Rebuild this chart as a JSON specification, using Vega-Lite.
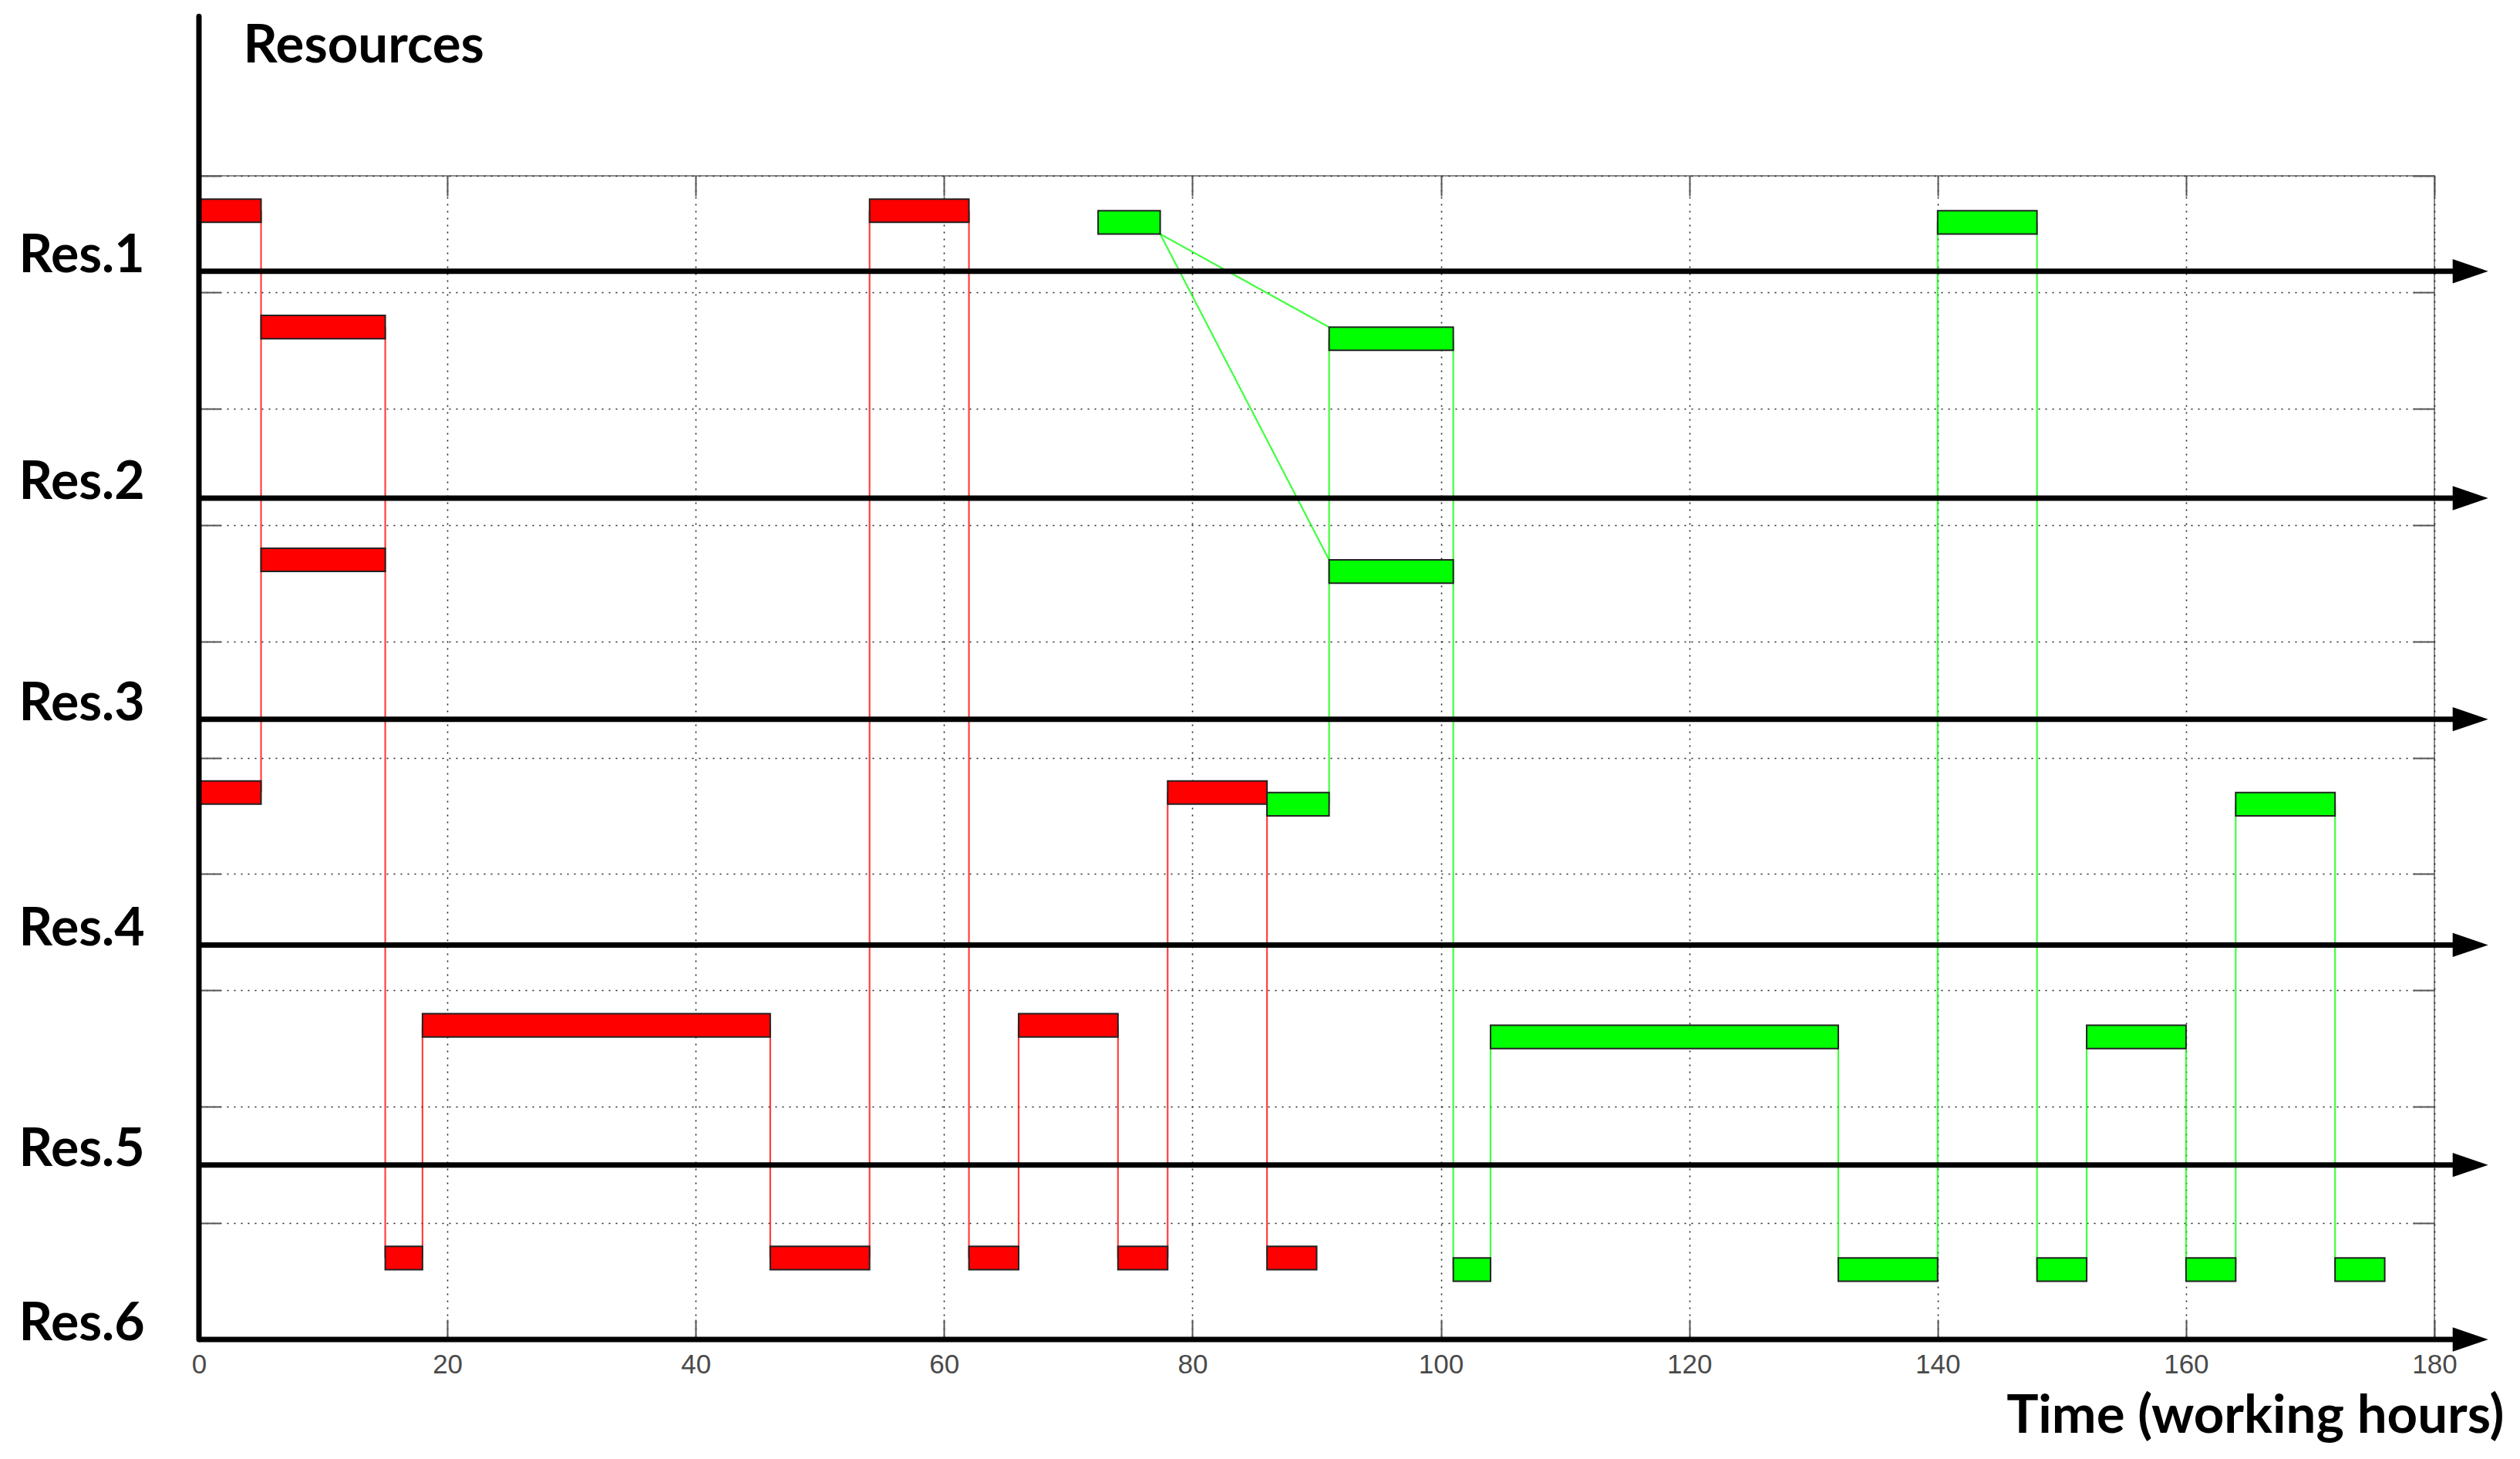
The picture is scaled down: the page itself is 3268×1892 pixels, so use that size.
{
  "$schema": "https://vega.github.io/schema/vega-lite/v6.json",
  "width": 2899,
  "height": 1509,
  "autosize": {"type": "none"},
  "padding": {"left": 258, "top": 228, "right": 111, "bottom": 155},
  "background": "white",
  "config": {
    "view": {"stroke": "#8c8c8c", "strokeWidth": 2},
    "font": "Lato"
  },
  "resolve": {"axis": {"x": "independent", "y": "independent"}},
  "datasets": {
    "tasks": [
      {"job": "A", "start": 0, "end": 5, "lo": 9.6, "hi": 9.8},
      {"job": "A", "start": 5, "end": 15, "lo": 8.6, "hi": 8.8},
      {"job": "A", "start": 5, "end": 15, "lo": 6.6, "hi": 6.8},
      {"job": "A", "start": 0, "end": 5, "lo": 4.6, "hi": 4.8},
      {"job": "A", "start": 15, "end": 18, "lo": 0.6, "hi": 0.8},
      {"job": "A", "start": 18, "end": 46, "lo": 2.6, "hi": 2.8},
      {"job": "A", "start": 46, "end": 54, "lo": 0.6, "hi": 0.8},
      {"job": "A", "start": 54, "end": 62, "lo": 9.6, "hi": 9.8},
      {"job": "A", "start": 62, "end": 66, "lo": 0.6, "hi": 0.8},
      {"job": "A", "start": 66, "end": 74, "lo": 2.6, "hi": 2.8},
      {"job": "A", "start": 74, "end": 78, "lo": 0.6, "hi": 0.8},
      {"job": "A", "start": 78, "end": 86, "lo": 4.6, "hi": 4.8},
      {"job": "A", "start": 86, "end": 90, "lo": 0.6, "hi": 0.8},
      {"job": "B", "start": 72.4, "end": 77.4, "lo": 9.5, "hi": 9.7},
      {"job": "B", "start": 91, "end": 101, "lo": 8.5, "hi": 8.7},
      {"job": "B", "start": 91, "end": 101, "lo": 6.5, "hi": 6.7},
      {"job": "B", "start": 86, "end": 91, "lo": 4.5, "hi": 4.7},
      {"job": "B", "start": 101, "end": 104, "lo": 0.5, "hi": 0.7},
      {"job": "B", "start": 104, "end": 132, "lo": 2.5, "hi": 2.7},
      {"job": "B", "start": 132, "end": 140, "lo": 0.5, "hi": 0.7},
      {"job": "B", "start": 140, "end": 148, "lo": 9.5, "hi": 9.7},
      {"job": "B", "start": 148, "end": 152, "lo": 0.5, "hi": 0.7},
      {"job": "B", "start": 152, "end": 160, "lo": 2.5, "hi": 2.7},
      {"job": "B", "start": 160, "end": 164, "lo": 0.5, "hi": 0.7},
      {"job": "B", "start": 164, "end": 172, "lo": 4.5, "hi": 4.7},
      {"job": "B", "start": 172, "end": 176, "lo": 0.5, "hi": 0.7}
    ],
    "links": [
      {"job": "A", "t": 5, "t2": 5, "from": 9.7, "to": 4.7},
      {"job": "A", "t": 15, "t2": 15, "from": 8.7, "to": 0.7},
      {"job": "A", "t": 18, "t2": 18, "from": 0.7, "to": 2.7},
      {"job": "A", "t": 46, "t2": 46, "from": 2.7, "to": 0.7},
      {"job": "A", "t": 54, "t2": 54, "from": 0.7, "to": 9.7},
      {"job": "A", "t": 62, "t2": 62, "from": 9.7, "to": 0.7},
      {"job": "A", "t": 66, "t2": 66, "from": 0.7, "to": 2.7},
      {"job": "A", "t": 74, "t2": 74, "from": 2.7, "to": 0.7},
      {"job": "A", "t": 78, "t2": 78, "from": 0.7, "to": 4.7},
      {"job": "A", "t": 86, "t2": 86, "from": 4.7, "to": 0.7},
      {"job": "B", "t": 77.4, "t2": 91, "from": 9.5, "to": 8.7},
      {"job": "B", "t": 77.4, "t2": 91, "from": 9.5, "to": 6.7},
      {"job": "B", "t": 91, "t2": 91, "from": 8.6, "to": 4.6},
      {"job": "B", "t": 101, "t2": 101, "from": 8.6, "to": 0.6},
      {"job": "B", "t": 104, "t2": 104, "from": 0.6, "to": 2.6},
      {"job": "B", "t": 132, "t2": 132, "from": 2.6, "to": 0.6},
      {"job": "B", "t": 140, "t2": 140, "from": 0.6, "to": 9.6},
      {"job": "B", "t": 148, "t2": 148, "from": 9.6, "to": 0.6},
      {"job": "B", "t": 152, "t2": 152, "from": 0.6, "to": 2.6},
      {"job": "B", "t": 160, "t2": 160, "from": 2.6, "to": 0.6},
      {"job": "B", "t": 164, "t2": 164, "from": 0.6, "to": 4.6},
      {"job": "B", "t": 172, "t2": 172, "from": 4.6, "to": 0.6}
    ],
    "resources": [
      {"res": "Res.1", "level": 9.18},
      {"res": "Res.2", "level": 7.23},
      {"res": "Res.3", "level": 5.33},
      {"res": "Res.4", "level": 3.39},
      {"res": "Res.5", "level": 1.5},
      {"res": "Res.6", "level": 0}
    ]
  },
  "layer": [
    {
      "data": {"name": "links"},
      "mark": {"type": "rule", "strokeWidth": 2.2, "opacity": 0.75},
      "encoding": {
        "x": {
          "field": "t", "type": "quantitative",
          "scale": {"domain": [0, 180], "nice": false, "zero": false},
          "axis": {
            "orient": "bottom",
            "values": [0, 20, 40, 60, 80, 100, 120, 140, 160, 180],
            "grid": true, "gridDash": [2, 7], "gridColor": "#222", "gridWidth": 1.6, "gridOpacity": 1,
            "domain": false,
            "ticks": true, "tickSize": -26, "tickColor": "#555", "tickWidth": 2,
            "labelFont": "Liberation Sans Narrow, Liberation Sans", "labelFontSize": 35, "labelColor": "#4a4a4a",
            "labelPadding": 41, "labelBaseline": "top", "labelFlush": false, "labelOverlap": false,
            "title": "Time (working hours)",
            "titleFont": "Lato", "titleFontSize": 69, "titleFontWeight": "bold", "titleColor": "#000",
            "titleAlign": "right", "titleBaseline": "alphabetic", "titleAnchor": "end",
            "titleX": 2989, "titleY": 120
          }
        },
        "x2": {"field": "t2"},
        "y": {
          "field": "from", "type": "quantitative",
          "scale": {"domain": [0, 10], "nice": false, "zero": false},
          "axis": {
            "orient": "left",
            "values": [0, 1, 2, 3, 4, 5, 6, 7, 8, 9, 10],
            "grid": true, "gridDash": [2, 7], "gridColor": "#222", "gridWidth": 1.6, "gridOpacity": 1,
            "domain": false, "labels": false,
            "ticks": true, "tickSize": -28, "tickColor": "#555", "tickWidth": 2,
            "title": "Resources",
            "titleFont": "Lato", "titleFontSize": 69, "titleFontWeight": "bold", "titleColor": "#000",
            "titleAngle": 0, "titleAlign": "left", "titleBaseline": "alphabetic",
            "titleX": 57, "titleY": -148
          }
        },
        "y2": {"field": "to"},
        "color": {
          "field": "job", "type": "nominal",
          "scale": {"domain": ["A", "B"], "range": ["#ff0000", "#00ff00"]},
          "legend": null
        }
      }
    },
    {
      "data": {"name": "tasks"},
      "mark": {"type": "rect", "stroke": "#222", "strokeWidth": 2},
      "encoding": {
        "x": {
          "field": "start", "type": "quantitative",
          "axis": {
            "orient": "top",
            "values": [0, 20, 40, 60, 80, 100, 120, 140, 160, 180],
            "grid": false, "labels": false, "domain": false,
            "ticks": true, "tickSize": -26, "tickColor": "#555", "tickWidth": 2,
            "title": null
          }
        },
        "x2": {"field": "end"},
        "y": {
          "field": "lo", "type": "quantitative",
          "axis": {
            "orient": "right",
            "values": [0, 1, 2, 3, 4, 5, 6, 7, 8, 9, 10],
            "grid": false, "labels": false, "domain": false,
            "ticks": true, "tickSize": -28, "tickColor": "#555", "tickWidth": 2,
            "title": null
          }
        },
        "y2": {"field": "hi"},
        "color": {"field": "job", "type": "nominal", "legend": null}
      }
    },
    {
      "data": {"name": "resources"},
      "mark": {"type": "rule", "color": "#000", "strokeWidth": 7},
      "encoding": {
        "x": {"datum": 0, "type": "quantitative", "axis": null},
        "x2": {"datum": 181.5},
        "y": {"field": "level", "type": "quantitative", "axis": null}
      }
    },
    {
      "data": {"name": "resources"},
      "mark": {
        "type": "point", "filled": true, "color": "#000", "opacity": 1,
        "shape": "M -1 -0.68 L 1 0 L -1 0.68 Z", "size": 2116
      },
      "encoding": {
        "x": {"datum": 182.9, "type": "quantitative", "axis": null},
        "y": {"field": "level", "type": "quantitative", "axis": null}
      }
    },
    {
      "data": {"name": "resources"},
      "mark": {
        "type": "text", "font": "Lato", "fontSize": 68, "fontWeight": "bold",
        "color": "#000", "align": "left", "baseline": "alphabetic", "dy": 1
      },
      "encoding": {
        "x": {"datum": -14.5, "type": "quantitative", "axis": null},
        "y": {"field": "level", "type": "quantitative", "axis": null},
        "text": {"field": "res"}
      }
    },
    {
      "data": {"values": [{}]},
      "mark": {"type": "rule", "color": "#000", "strokeWidth": 7, "strokeCap": "round"},
      "encoding": {
        "x": {"datum": 0, "type": "quantitative", "axis": null},
        "y": {"datum": 0, "type": "quantitative", "axis": null},
        "y2": {"datum": 11.37}
      }
    }
  ]
}
